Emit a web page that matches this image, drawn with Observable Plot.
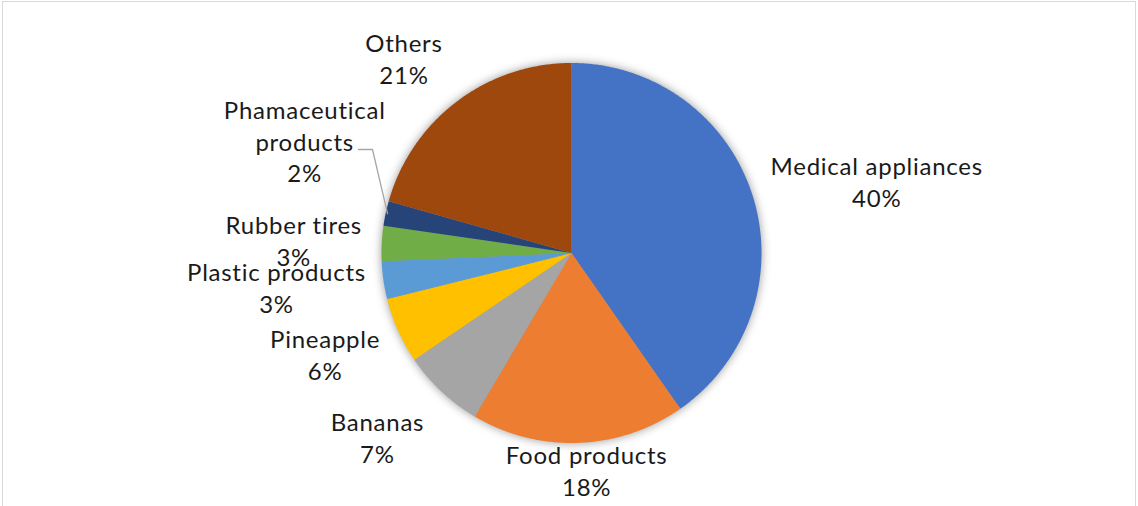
<!DOCTYPE html>
<html>
<head>
<meta charset="utf-8">
<script src="https://cdn.jsdelivr.net/npm/d3@7"></script>
<script src="https://cdn.jsdelivr.net/npm/@observablehq/plot@0.6"></script>
<style>
  html, body { margin: 0; padding: 0; background: #fff; }
  #wrap { position: relative; width: 1138px; height: 506px; overflow: hidden; }
  #border { position: absolute; left: 2px; top: 1px; width: 1134px; height: 520px; border: 1px solid #d9d9d9; box-sizing: border-box; pointer-events: none; }
</style>
</head>
<body>
<div id="wrap"><div id="border"></div></div>
<script>
// ---- data ----
const categories = ["Medical appliances", "Food products", "Bananas", "Pineapple", "Plastic products", "Rubber tires", "Phamaceutical products", "Others"];
const values = [40.3, 18.2, 7.0, 5.6, 3.2, 3.0, 2.1, 20.6];
const labelText = ["Medical appliances\n40%", "Food products\n18%", "Bananas\n7%", "Pineapple\n6%", "Plastic products\n3%", "Rubber tires\n3%", "Phamaceutical\nproducts\n2%", "Others\n21%"];
const colors = ["#4472C4", "#ED7D31", "#A5A5A5", "#FFC000", "#5B9BD5", "#70AD47", "#264478", "#9E480E"];

// ---- layout (pixel offsets of labels from slice edge midpoint) ----
const labelOffset = [[124, -15], [8, 27], [-64, 45], [-73, 23], [-107, 6], [-88, -4], [-81, -73], [-53, -44]];
const W = 1138, H = 506;
const cx = 571, cy = 252.5, R = 190;
const pxPerUnit = R; // one data unit = radius

const arcs = d3.pie().sort(null).value(d => d)(values);

function arcPolygon(a0, a1) {
  const pts = [{x: 0, y: 0}];
  const n = Math.max(2, Math.ceil((a1 - a0) / (Math.PI / 360)));
  for (let i = 0; i <= n; i++) {
    const a = a0 + (a1 - a0) * i / n;
    pts.push({x: Math.sin(a), y: Math.cos(a)});
  }
  pts.push({x: 0, y: 0});
  return pts;
}

const sliceMarks = arcs.map((a, i) =>
  Plot.line(arcPolygon(a.startAngle, a.endAngle), {x: "x", y: "y", fill: colors[i], stroke: "none", curve: "linear"})
);

const labels = arcs.map((a, i) => {
  const m = (a.startAngle + a.endAngle) / 2;
  return {name: labelText[i], x: Math.sin(m), y: Math.cos(m), dx: labelOffset[i][0], dy: labelOffset[i][1]};
});

// leader line for the small pharmaceutical slice
const ph = arcs[6];
const phm = (ph.startAngle + ph.endAngle) / 2;
const phEdge = {x: Math.sin(phm) * 0.99, y: Math.cos(phm) * 0.99};
const toData = (px, py) => ({x: (px - cx) / pxPerUnit, y: (cy - py) / pxPerUnit});
const leader = [phEdge, toData(372, 149), toData(358, 149)];

const shadow = arcPolygon(0, 2 * Math.PI);

const plot = Plot.plot({
  width: W,
  height: H,
  margin: 0,
  x: {domain: [-1, 1], range: [cx - R, cx + R], axis: null},
  y: {domain: [-1, 1], range: [cy + R, cy - R], axis: null},
  style: {background: "transparent", fontFamily: "Lato, 'Open Sans', sans-serif"},
  marks: [
    Plot.line(shadow, {x: "x", y: "y", fill: "#000", fillOpacity: 0.4, stroke: "none"}),
    ...sliceMarks,
    Plot.line(leader, {x: "x", y: "y", stroke: "#a6a6a6", strokeWidth: 1.3}),
    ...labels.map(l => Plot.text([l], {x: "x", y: "y", text: "name", dx: l.dx, dy: l.dy, fontSize: 24, lineHeight: 1.33, fill: "#1a1a1a", textAnchor: "middle", lineAnchor: "middle"}))
  ]
});

// soft shadow filter on the first mark
const ns = "http://www.w3.org/2000/svg";
const defs = document.createElementNS(ns, "defs");
defs.innerHTML = '<filter id="pieShadow" x="-20%" y="-20%" width="140%" height="140%"><feGaussianBlur stdDeviation="5"/></filter>';
plot.insertBefore(defs, plot.firstChild);
const firstLine = plot.querySelector('g[aria-label="line"]');
if (firstLine) firstLine.setAttribute("filter", "url(#pieShadow)");
plot.querySelectorAll('g[aria-label="text"] text').forEach(t => t.style.letterSpacing = "0.75px");
plot.style.position = "absolute";
plot.style.left = "0";
plot.style.top = "0";
document.getElementById("wrap").insertBefore(plot, document.getElementById("border"));
</script>
</body>
</html>
